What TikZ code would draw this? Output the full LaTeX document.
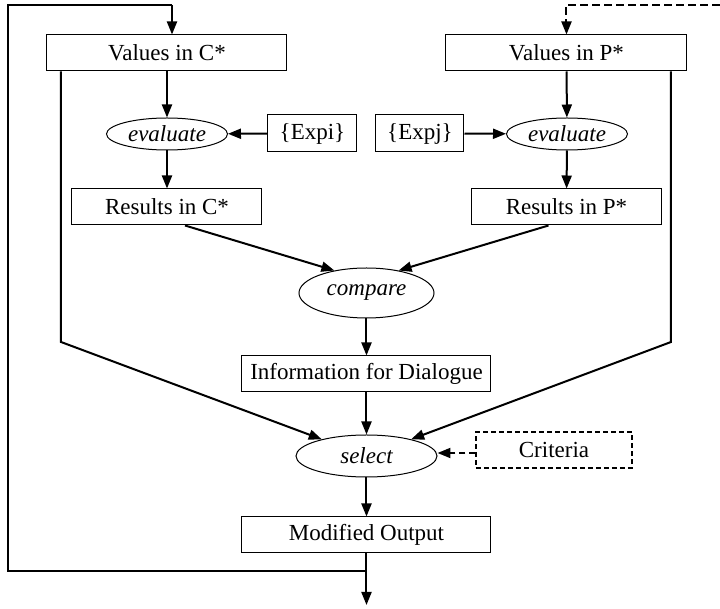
\documentclass[tikz,border=0pt]{standalone}
\usepackage{fontspec}
\setmainfont{Liberation Serif}
\usetikzlibrary{arrows.meta,shapes.geometric,calc}

\begin{document}
\begin{tikzpicture}[x=0.5pt,y=-0.5pt,
        font=\fontsize{11.5}{13}\selectfont,
        box/.style={draw,line width=0.5pt,minimum height=18pt,inner sep=0pt},
        oval/.style={draw,ellipse,line width=0.5pt,inner sep=0pt,font=\fontsize{11.5}{13}\selectfont\itshape},
        arr/.style={line width=1pt,-{Triangle[length=6.5pt,width=5pt]}},
        ln/.style={line width=1pt}]
        \useasboundingbox (0,0) rectangle (720,609);
        \node[box,minimum width=120pt] (valC) at (167,53) {Values in C*};
        \node[box,minimum width=120.5pt] (valP) at (566.5,53) {Values in P*};
        \node[oval,minimum width=60.5pt,minimum height=16pt] (evalC) at (167,134) {evaluate};
        \node[oval,minimum width=60.5pt,minimum height=16pt] (evalP) at (567,134) {evaluate};
        \node[box,minimum width=44.5pt,minimum height=18.5pt] (expi) at (312.5,133.5) {\{Expi\}};
        \node[box,minimum width=44pt,minimum height=18.5pt] (expj) at (420,133.5) {\{Expj\}};
        \node[box,minimum width=95pt] (resC) at (167,207) {Results in C*};
        \node[box,minimum width=95pt] (resP) at (566.5,207) {Results in P*};
        \node[oval,minimum width=67.5pt,minimum height=25pt] (compare) at (366.5,293) {compare};
        \node[box,minimum width=124.5pt] (info) at (366.5,374) {Information for Dialogue};
        \node[oval,minimum width=70.5pt,minimum height=21pt] (select) at (366.5,456) {select};
        \node[box,dashed,dash pattern=on 2.5pt off 1.5pt,line width=0.7pt,minimum width=78pt] (crit) at (554,450) {Criteria};
        \node[box,minimum width=124.5pt] (modout) at (366.5,535) {Modified Output};
        \coordinate (split) at (366.5,571);
        \coordinate (out) at (366.5,605);
        \coordinate (loopBL) at (8,571);
        \coordinate (loopTL) at (8,5);
        \coordinate (loopTR) at (172,5);
        \coordinate (fbR) at (720,5);
        \coordinate (bendC) at (61,342);
        \coordinate (bendP) at (671,342);
        \draw[arr] (loopTR) -- (loopTR |- valC.north);
        \draw[ln] (split) -- (loopBL) -- (loopTL) -- (loopTR);
        \draw[arr,dash pattern=on 4pt off 2pt] (fbR) -- (fbR -| valP) -- (valP);
        \draw[arr] (valC) -- (evalC);
        \draw[arr] (valP) -- (evalP);
        \draw[arr] (expi) -- (evalC);
        \draw[arr] (expj) -- (evalP);
        \draw[arr] (evalC) -- (resC);
        \draw[arr] (evalP) -- (resP);
        \draw[arr] ([xshift=9pt]resC.south) -- (compare.145);
        \draw[arr] ([xshift=-9pt]resP.south) -- (compare.35);
        \draw[arr] (compare) -- (info);
        \draw[arr] (info) -- (select);
        \draw[arr] (valC.south -| bendC) -- (bendC) -- (select);
        \draw[arr] (valP.south -| bendP) -- (bendP) -- (select);
        \draw[arr,dash pattern=on 3pt off 2pt] (crit.west |- 0,453) -- (select.east |- 0,453);
        \draw[arr] (select) -- (modout);
        \draw[arr] (modout) -- (out);
\end{tikzpicture}
\end{document}
